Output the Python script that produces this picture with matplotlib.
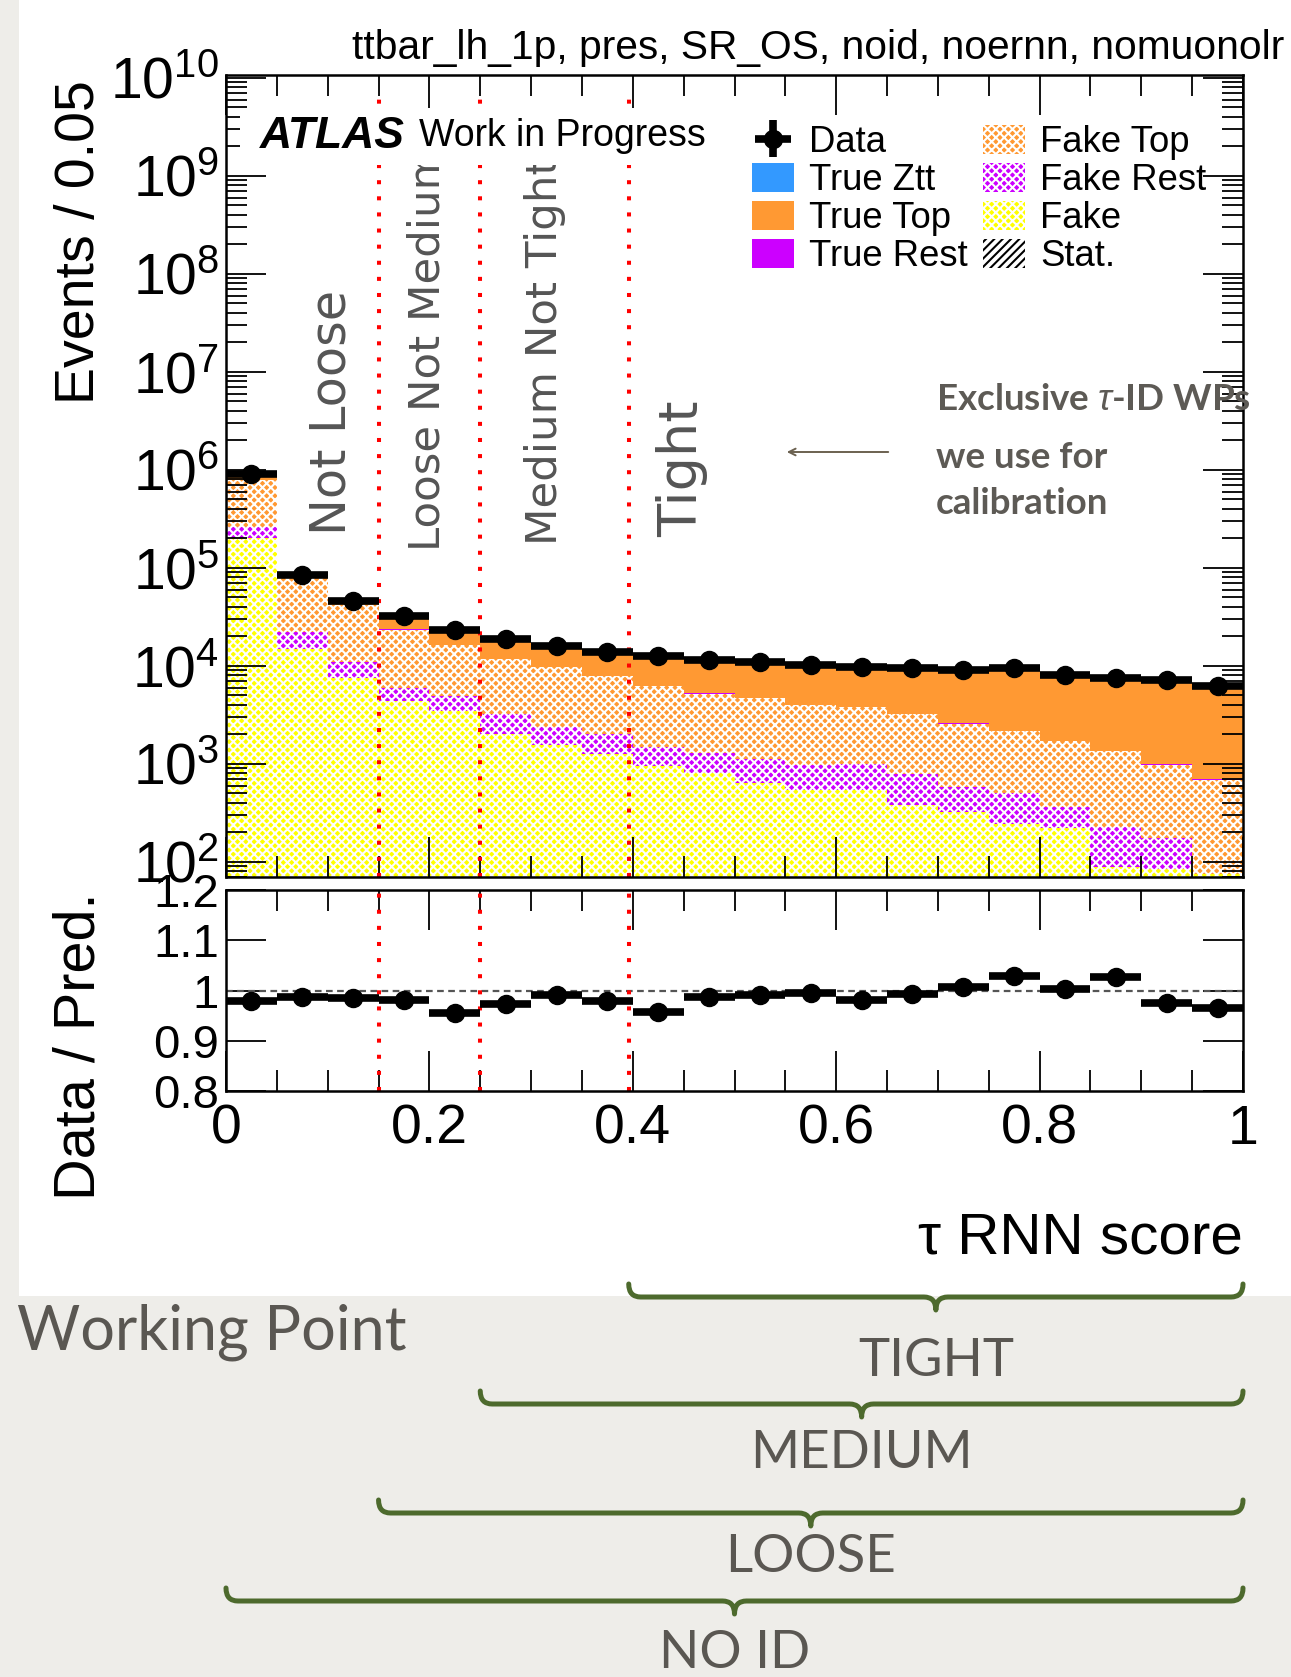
import numpy as np
import matplotlib
matplotlib.use("Agg")
import matplotlib.pyplot as plt
import matplotlib.transforms as mtransforms
from matplotlib.patches import Patch, Rectangle, PathPatch
from matplotlib.path import Path
from matplotlib.ticker import MultipleLocator, LogLocator, FuncFormatter, NullFormatter, NullLocator

# tau RNN score binning (width 0.05)
bin_edges = [0.0, 0.05, 0.10, 0.15, 0.20, 0.25, 0.30, 0.35, 0.40, 0.45, 0.50,
             0.55, 0.60, 0.65, 0.70, 0.75, 0.80, 0.85, 0.90, 0.95, 1.0]

data_events = [9.1e5, 8.5e4, 4.6e4, 3.2e4, 2.3e4, 1.9e4, 1.6e4, 1.4e4, 1.27e4, 1.15e4,
               1.1e4, 1.02e4, 9.8e3, 9.6e3, 9.0e3, 9.6e3, 8.1e3, 7.6e3, 7.1e3, 6.2e3]

# stacked backgrounds, bottom to top
fake = [2.0e5, 1.5e4, 7.5e3, 4.4e3, 3.5e3, 2.0e3, 1550, 1270, 940, 810,
        630, 540, 540, 380, 325, 240, 220, 87, 83, 75]
fake_rest = [6.0e4, 7.0e3, 3.5e3, 1.5e3, 1.4e3, 1.2e3, 800, 730, 560, 490,
             490, 430, 460, 410, 250, 260, 145, 136, 92, 0]
fake_top = [5.3e5, 5.9e4, 3.1e4, 1.75e4, 1.13e4, 8.5e3, 7.4e3, 5.8e3, 4.7e3, 3.9e3,
            3.6e3, 3.0e3, 2.8e3, 2.4e3, 2.0e3, 1.64e3, 1.33e3, 1.13e3, 800, 615]
true_rest = [3000, 300, 150, 100, 80, 60, 50, 40, 35, 30,
             30, 28, 25, 22, 20, 18, 15, 12, 10, 8]
true_top = [134500, 4600, 4300, 8970, 7650, 7520, 6150, 6310, 6820, 6250,
            6180, 6110, 6050, 6340, 6250, 7100, 6310, 5980, 6250, 5700]
true_ztt = [2000, 300, 200, 150, 150, 250, 200, 150, 200, 180,
            170, 150, 120, 110, 90, 80, 60, 50, 40, 30]

# working point thresholds on the RNN score
wp_names = ["NO ID", "LOOSE", "MEDIUM", "TIGHT"]
wp_low = [0.0, 0.15, 0.25, 0.396]
region_names = ["Not Loose", "Loose Not Medium", "Medium Not Tight", "Tight"]

W, H = 1291, 1677
GREY_TXT = "#5a5752"
BRACE_GREEN = "#4d6a2d"

plt.rcParams['font.family'] = ['Liberation Sans', 'DejaVu Sans']
plt.rcParams['mathtext.fontset'] = 'custom'
plt.rcParams['mathtext.rm'] = 'Liberation Sans'
plt.rcParams['mathtext.it'] = 'Liberation Sans:italic'
plt.rcParams['mathtext.bf'] = 'Liberation Sans:bold'
plt.rcParams['hatch.linewidth'] = 1.5


def fx(px):
    return px / W


def fy(py):
    return 1 - py / H


edges = np.array(bin_edges)
centers = 0.5 * (edges[:-1] + edges[1:])
half_w = 0.5 * (edges[1:] - edges[:-1])
data = np.array(data_events)
layers = [
    (np.array(fake), '#FFFF00', True, 'Fake'),
    (np.array(fake_rest), '#CC00FF', True, 'Fake Rest'),
    (np.array(fake_top), '#FF9933', True, 'Fake Top'),
    (np.array(true_rest), '#CC00FF', False, 'True Rest'),
    (np.array(true_top), '#FF9933', False, 'True Top'),
    (np.array(true_ztt), '#3399FF', False, 'True Ztt'),
]
total = sum(l[0] for l in layers)
ratio = data / total
ratio_err = np.sqrt(data) / total

fig = plt.figure(figsize=(W / 100, H / 100), dpi=100)
fig.patch.set_facecolor('#eeede9')
fig.add_artist(Rectangle((fx(19), fy(1296)), 1 - fx(19), 1 - fy(1296) + 0.01,
                         transform=fig.transFigure, facecolor='white',
                         edgecolor='none', zorder=0))

ax = fig.add_axes([fx(226), fy(877), fx(1243) - fx(226), fy(75) - fy(877)])
rax = fig.add_axes([fx(226), fy(1091), fx(1243) - fx(226), fy(890) - fy(1091)])

# stacked histogram
base = np.ones(len(centers))
handles = {}
for vals, col, hatched, name in layers:
    top = base + vals
    ax.stairs(top, edges, baseline=base, fill=True, facecolor=col,
              edgecolor='white' if hatched else col,
              hatch='xxxx' if hatched else None, linewidth=0, zorder=1)
    handles[name] = Patch(facecolor=col, edgecolor='white' if hatched else col,
                          hatch='xxxx' if hatched else None, linewidth=0)
    base = top

data_h = ax.errorbar(centers, data, xerr=half_w, yerr=np.sqrt(data), fmt='o',
                     color='black', ms=13, elinewidth=5.5, capsize=0, zorder=4)

ax.set_xlim(0, 1)
ax.set_ylim(70, 1.07e10)
ax.set_yscale('log')

# ratio panel
rax.axhline(1.0, color='#555555', lw=1.6, ls=(0, (3, 2)), zorder=2)
rax.errorbar(centers, ratio, xerr=half_w, yerr=ratio_err, fmt='o',
             color='black', ms=13, elinewidth=5.5, capsize=0, zorder=4)
rax.set_xlim(0, 1)
rax.set_ylim(0.8, 1.2)

# working-point boundaries
for cut in wp_low[1:]:
    ax.axvline(cut, ymax=0.979, color='red', lw=2.9, ls=(0, (1, 3)), zorder=2)
    rax.axvline(cut, color='red', lw=2.9, ls=(0, (1, 3)), zorder=2)

# ROOT-like axis styling
for a in (ax, rax):
    a.xaxis.set_major_locator(MultipleLocator(0.2))
    a.xaxis.set_minor_locator(MultipleLocator(0.05))
    a.tick_params(which='both', direction='in', top=True, right=True,
                  width=1.3, color='black')
    a.tick_params(which='major', length=29)
    a.tick_params(which='minor', length=15)
    for sp in a.spines.values():
        sp.set_linewidth(1.8)

ax.yaxis.set_major_locator(LogLocator(base=10, numticks=30))
ax.yaxis.set_minor_locator(LogLocator(base=10, subs=np.arange(2, 10), numticks=30))
ax.yaxis.set_minor_formatter(NullFormatter())
ax.yaxis.set_major_formatter(FuncFormatter(lambda v, p: r'$10^{%d}$' % round(np.log10(v))))
ax.tick_params(axis='x', labelbottom=False)
ax.tick_params(axis='y', labelsize=41, pad=5)

rax.yaxis.set_major_locator(MultipleLocator(0.1))
rax.yaxis.set_minor_locator(NullLocator())
rax.yaxis.set_major_formatter(FuncFormatter(lambda v, p: '%g' % round(v, 2)))
rax.xaxis.set_major_formatter(FuncFormatter(lambda v, p: '%g' % round(v, 2)))
rax.tick_params(axis='y', labelsize=34, pad=5)
rax.tick_params(axis='x', labelsize=40, pad=9)

fig.text(fx(80), fy(242), 'Events / 0.05', rotation=90, ha='center', va='center', fontsize=40)
fig.text(fx(80), fy(1046), 'Data / Pred.', rotation=90, ha='center', va='center', fontsize=41.5)
fig.text(fx(1243), fy(1239), 'τ RNN score', ha='right', va='center', fontsize=42)
fig.text(fx(1284), fy(48), 'ttbar_lh_1p, pres, SR_OS, noid, noernn, nomuonolr',
         ha='right', va='center', fontsize=29.3)

# region labels between the cuts (kept inside the axes so the label box can mask them)
label_x = [331, 428, 545, 682]
label_bottom = [535, 551, 545, 537]
label_size = [35.5, 31.3, 31.3, 39]
for name, xp, yb, fs in zip(region_names, label_x, label_bottom, label_size):
    ax.text(fx(xp), fy(yb), name, rotation=90, ha='center', va='bottom',
            fontsize=fs, color='#555555', family='DejaVu Sans', zorder=2.3,
            transform=fig.transFigure, clip_on=False)

# white box behind the ATLAS label
ax.add_artist(Rectangle((fx(240), fy(165)), fx(712) - fx(240), fy(108) - fy(165),
                        transform=fig.transFigure, facecolor='white', edgecolor='none',
                        zorder=2.4, clip_on=False))
fig.text(fx(260), fy(136), 'ATLAS', fontsize=32, fontweight='bold', style='italic',
         ha='left', va='center', zorder=5)
fig.text(fx(419), fy(136), 'Work in Progress', fontsize=27, ha='left', va='center', zorder=5)

# legend
leg_handles = [data_h, handles['True Ztt'], handles['True Top'], handles['True Rest'],
               handles['Fake Top'], handles['Fake Rest'], handles['Fake'],
               Patch(facecolor='white', edgecolor='black', hatch='////', linewidth=0)]
leg_labels = ['Data', 'True Ztt', 'True Top', 'True Rest',
              'Fake Top', 'Fake Rest', 'Fake', 'Stat.']
leg = ax.legend(leg_handles, leg_labels, ncol=2, loc='upper left',
                bbox_to_anchor=(fx(752), fy(125)), bbox_transform=fig.transFigure,
                frameon=False, fontsize=26.3, handlelength=1.15, handleheight=0.85,
                handletextpad=0.42, columnspacing=0.4, labelspacing=0.075,
                borderpad=0, borderaxespad=0)
leg.set_zorder(5)

# side note with arrow
note_font = dict(family=['Lato', 'DejaVu Sans'], fontweight='bold', color='#5d5a55', fontsize=26.5)
fig.text(fx(936), fy(399), r'Exclusive $\tau$-ID WPs', ha='left', va='center', zorder=5, **note_font)
fig.text(fx(936), fy(457), 'we use for', ha='left', va='center', zorder=5, **note_font)
fig.text(fx(936), fy(503), 'calibration', ha='left', va='center', zorder=5, **note_font)
ax.annotate('', xy=(fx(784), fy(452)), xytext=(fx(891), fy(452)),
            xycoords='figure fraction', textcoords='figure fraction',
            arrowprops=dict(arrowstyle='->', color='#6b6150', lw=1.4,
                            mutation_scale=12))

# working point braces spanning [threshold, 1]
blend = mtransforms.blended_transform_factory(rax.transData, fig.transFigure)
brace_line = [1601, 1513, 1404, 1297]
text_y = [1654, 1558, 1453, 1362]
for name, lo, yl, yt in zip(wp_names, wp_low, brace_line, text_y):
    hi = 1.0
    mid = 0.5 * (lo + hi)
    y = fy(yl)
    h_end = 13 / H
    h_tip = 13 / H
    dx = 12 / 1017
    verts = [(lo, y + h_end), (lo, y), (lo + dx, y), (mid - dx, y), (mid, y), (mid, y - h_tip),
             (mid, y), (mid + dx, y), (hi - dx, y), (hi, y), (hi, y + h_end)]
    codes = [Path.MOVETO, Path.CURVE3, Path.CURVE3, Path.LINETO, Path.CURVE3, Path.CURVE3,
             Path.CURVE3, Path.CURVE3, Path.LINETO, Path.CURVE3, Path.CURVE3]
    fig.add_artist(PathPatch(Path(verts, codes), transform=blend, fill=False,
                             edgecolor=BRACE_GREEN, lw=3.6, capstyle='round',
                             joinstyle='round', zorder=3))
    fig.text(mid, fy(yt), name, transform=blend, ha='center', va='center',
             fontsize=38, color=GREY_TXT, family=['Lato', 'DejaVu Sans'])

fig.text(fx(17), fy(1332), 'Working Point', ha='left', va='center', fontsize=44,
         color=GREY_TXT, family=['Lato', 'DejaVu Sans'])

fig.savefig('out.png', dpi=100, facecolor=fig.get_facecolor())
